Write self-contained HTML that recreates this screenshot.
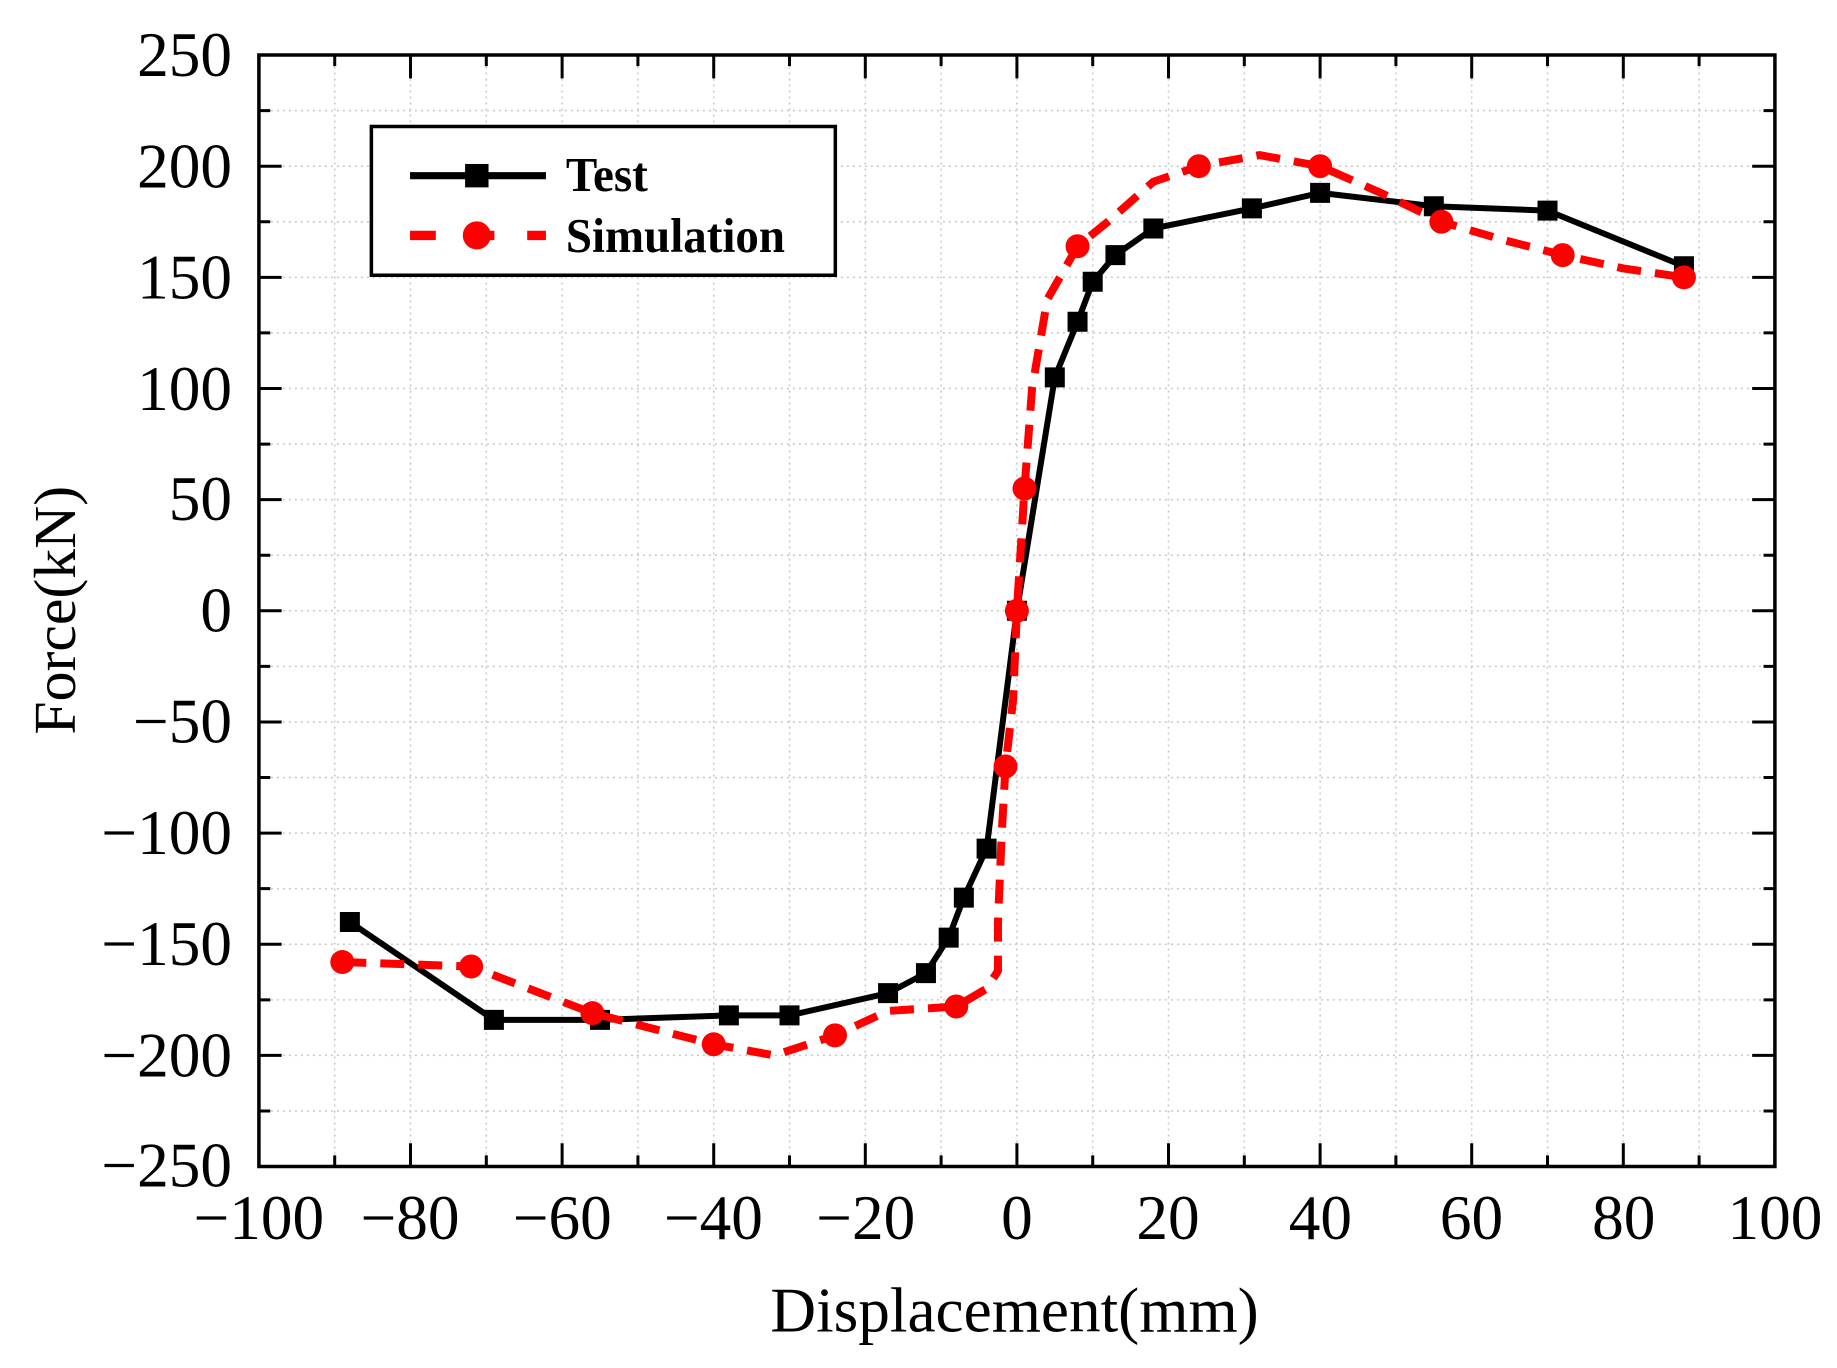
<!DOCTYPE html>
<html><head><meta charset="utf-8"><style>
html,body{margin:0;padding:0;background:#fff;}
svg{display:block;}
text{font-family:"Liberation Serif",serif;fill:#000;}
</style></head><body>
<svg width="1837" height="1368" viewBox="0 0 1568 1168" preserveAspectRatio="none" xmlns="http://www.w3.org/2000/svg">
<rect width="1568" height="1168" fill="#fff"/>
<g transform="translate(868,521.5) scale(6.47,-1.898)" fill="none">
  <path vector-effect="non-scaling-stroke" stroke="#c8c8c8" stroke-width="1.5" stroke-dasharray="2,4"
    d="M-90,-250V250M-80,-250V250M-70,-250V250M-60,-250V250M-50,-250V250M-40,-250V250M-30,-250V250M-20,-250V250M-10,-250V250M0,-250V250M10,-250V250M20,-250V250M30,-250V250M40,-250V250M50,-250V250M60,-250V250M70,-250V250M80,-250V250M90,-250V250
    M-100,225H100M-100,200H100M-100,175H100M-100,150H100M-100,125H100M-100,100H100M-100,75H100M-100,50H100M-100,25H100M-100,0H100M-100,-25H100M-100,-50H100M-100,-75H100M-100,-100H100M-100,-125H100M-100,-150H100M-100,-175H100M-100,-200H100M-100,-225H100"/>
  <path vector-effect="non-scaling-stroke" stroke="#000" stroke-width="6" stroke-linejoin="round"
    d="M-88,-140L-69,-184L-55,-184L-38,-182L-30,-182L-17,-172L-12,-163L-9,-147L-7,-129L-4,-107L0,0L5,105L8,130L10,148L13,160L18,172L31,181L40,188L55,182L70,180L88,155"/>
  <path vector-effect="non-scaling-stroke" stroke="#000" stroke-width="20" stroke-linecap="square"
    d="M-88,-140h0M-69,-184h0M-55,-184h0M-38,-182h0M-30,-182h0M-17,-172h0M-12,-163h0M-9,-147h0M-7,-129h0M-4,-107h0M0,0h0M5,105h0M8,130h0M10,148h0M13,160h0M18,172h0M31,181h0M40,188h0M55,182h0M70,180h0M88,155h0"/>
  <path vector-effect="non-scaling-stroke" stroke="#f00" stroke-width="8" stroke-dasharray="24,14" stroke-linejoin="round"
    d="M-89,-158L-72,-160L-56,-181L-40,-195L-32,-200L-24,-191L-17,-180L-8,-178L-4,-170L-2.5,-162L-2.5,-140L-2,-100L-1.5,-70L-0.5,-40L0,0L1,55L2,100L4,140L8,164L12,175L18,193L24,200L32,205L40,200L48,188L56,175L64,167L72,160L80,154L88,150"/>
  <path vector-effect="non-scaling-stroke" stroke="#f00" stroke-width="24" stroke-linecap="round"
    d="M-89,-158h0M-72,-160h0M-56,-181h0M-40,-195h0M-24,-191h0M-8,-178h0M-1.5,-70h0M0,0h0M1,55h0M8,164h0M24,200h0M40,200h0M56,175h0M72,160h0M88,150h0"/>
  <path vector-effect="non-scaling-stroke" stroke="#000" stroke-width="3"
    d="M-100,-250v10.5M-80,-250v10.5M-60,-250v10.5M-40,-250v10.5M-20,-250v10.5M0,-250v10.5M20,-250v10.5M40,-250v10.5M60,-250v10.5M80,-250v10.5M100,-250v10.5
    M-90,-250v5M-70,-250v5M-50,-250v5M-30,-250v5M-10,-250v5M10,-250v5M30,-250v5M50,-250v5M70,-250v5M90,-250v5
    M-100,250v-10.5M-80,250v-10.5M-60,250v-10.5M-40,250v-10.5M-20,250v-10.5M0,250v-10.5M20,250v-10.5M40,250v-10.5M60,250v-10.5M80,250v-10.5
    M-90,250v-5M-70,250v-5M-50,250v-5M-30,250v-5M-10,250v-5M10,250v-5M30,250v-5M50,250v-5M70,250v-5M90,250v-5
    M-100,200h3M-100,150h3M-100,100h3M-100,50h3M-100,0h3M-100,-50h3M-100,-100h3M-100,-150h3M-100,-200h3
    M-100,225h1.5M-100,175h1.5M-100,125h1.5M-100,75h1.5M-100,25h1.5M-100,-25h1.5M-100,-75h1.5M-100,-125h1.5M-100,-175h1.5M-100,-225h1.5
    M100,200h-3M100,150h-3M100,100h-3M100,50h-3M100,0h-3M100,-50h-3M100,-100h-3M100,-150h-3M100,-200h-3
    M100,225h-1.5M100,175h-1.5M100,125h-1.5M100,75h-1.5M100,25h-1.5M100,-25h-1.5M100,-75h-1.5M100,-125h-1.5M100,-175h-1.5M100,-225h-1.5"/>
  <rect x="-100" y="-250" width="200" height="500" vector-effect="non-scaling-stroke" stroke="#000" stroke-width="3.5"/>
</g>
<rect x="317" y="108" width="396" height="127" fill="#fff" stroke="#000" stroke-width="3"/>
<line x1="350" y1="150" x2="466" y2="150" stroke="#000" stroke-width="6"/>
<rect x="397" y="140" width="20" height="20" fill="#000"/>
<line x1="350" y1="201" x2="466" y2="201" stroke="#f00" stroke-width="8" stroke-dasharray="22,28"/>
<circle cx="407" cy="201" r="12" fill="#f00"/>
<text x="483" y="163" font-size="42" font-weight="bold" textLength="70" lengthAdjust="spacingAndGlyphs">Test</text>
<text x="483" y="215" font-size="42" font-weight="bold" textLength="187" lengthAdjust="spacingAndGlyphs">Simulation</text>
<g font-size="54" text-anchor="end">
<text x="198" y="65">250</text>
<text x="198" y="160">200</text>
<text x="198" y="255">150</text>
<text x="198" y="350">100</text>
<text x="198" y="444">50</text>
<text x="198" y="539">0</text>
<text x="198" y="634">−50</text>
<text x="198" y="729">−100</text>
<text x="198" y="824">−150</text>
<text x="198" y="919">−200</text>
<text x="198" y="1013">−250</text>
</g>
<g font-size="54" text-anchor="middle">
<text x="221" y="1058">−100</text>
<text x="350" y="1058">−80</text>
<text x="480" y="1058">−60</text>
<text x="609" y="1058">−40</text>
<text x="739" y="1058">−20</text>
<text x="868" y="1058">0</text>
<text x="997" y="1058">20</text>
<text x="1127" y="1058">40</text>
<text x="1256" y="1058">60</text>
<text x="1386" y="1058">80</text>
<text x="1515" y="1058">100</text>
</g>
<text x="866" y="1137" font-size="54" text-anchor="middle">Displacement(mm)</text>
<text transform="translate(64,521) rotate(-90)" font-size="51" text-anchor="middle">Force(kN)</text>
</svg>
</body></html>
